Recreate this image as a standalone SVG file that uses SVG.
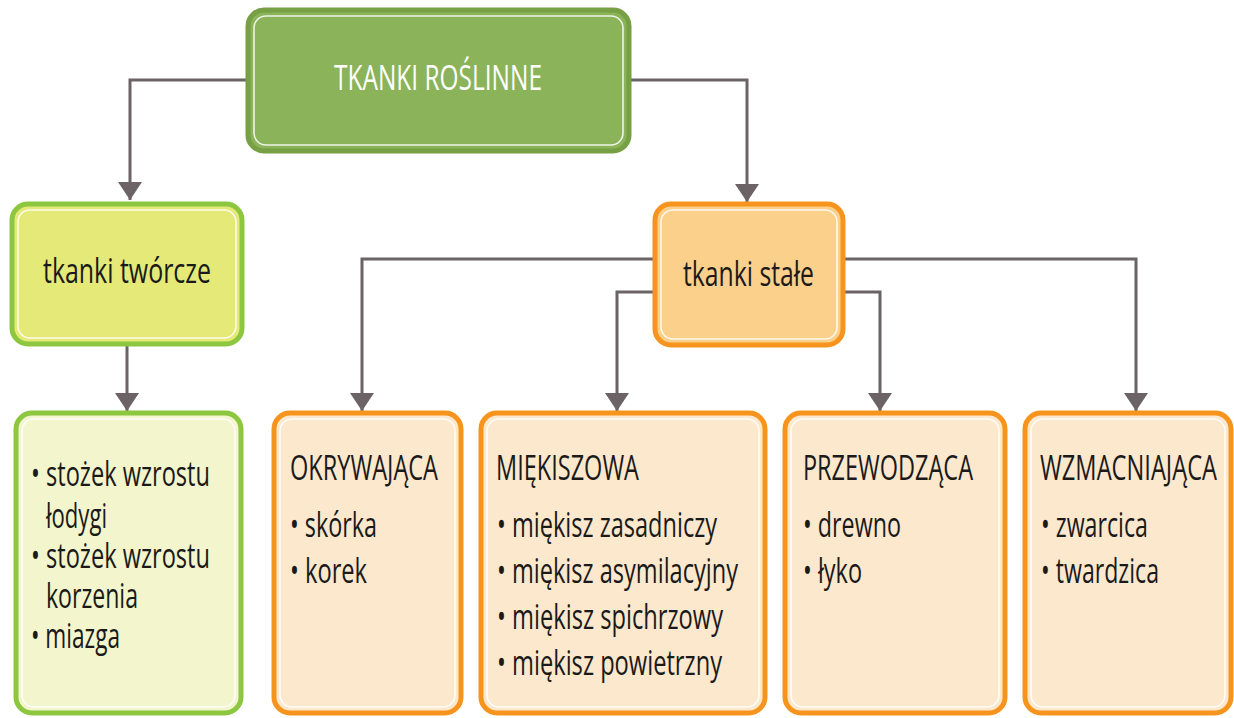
<svg xmlns="http://www.w3.org/2000/svg" width="1234" height="718" viewBox="0 0 1234 718">
<style>
.t{font-family:"Open Sans","DejaVu Sans",sans-serif;fill:#1a1a1a;font-size:34px}
.w{fill:#ffffff}
.c{fill:none;stroke:#6b6365;stroke-width:3}
.in{fill:none;stroke:#ffffff;stroke-width:1.6;opacity:0.85}
.og{stroke:#f7941d;stroke-width:5}
.gg{stroke:#8dc63f;stroke-width:5}
</style>
<defs>
<marker id="ah" markerUnits="userSpaceOnUse" markerWidth="18" markerHeight="24" refX="18" refY="12" orient="auto" viewBox="0 0 18 24">
<path d="M0,0 L18,12 L0,24 z" fill="#6b6365"/>
</marker>
</defs>
<g id="connectors">
<path class="c" d="M246,80 H130 V200" marker-end="url(#ah)"/>
<path class="c" d="M631,80 H747 V202" marker-end="url(#ah)"/>
<path class="c" d="M127,346 V411" marker-end="url(#ah)"/>
<path class="c" d="M653,259 H362 V411" marker-end="url(#ah)"/>
<path class="c" d="M653,292 H617 V411" marker-end="url(#ah)"/>
<path class="c" d="M845,292 H880 V411" marker-end="url(#ah)"/>
<path class="c" d="M845,259 H1136 V411" marker-end="url(#ah)"/>
</g>
<g id="root">
<rect x="248" y="10" width="381" height="141" rx="16" fill="#8bb35a" stroke="#76a043" stroke-width="5"/>
<rect x="254" y="16" width="369" height="129" rx="12" class="in"/>
<text class="t w" x="334" y="90" font-size="38" textLength="208" lengthAdjust="spacingAndGlyphs">TKANKI ROŚLINNE</text>
</g>
<g id="tworcze">
<rect x="12" y="204" width="230" height="140" rx="16" fill="#e5e978" class="gg"/>
<rect x="18" y="210" width="218" height="128" rx="12" class="in"/>
<text class="t" x="43" y="283" font-size="34" textLength="168" lengthAdjust="spacingAndGlyphs">tkanki twórcze</text>
</g>
<g id="stale">
<rect x="655" y="204" width="188" height="141" rx="16" fill="#fbd08b" class="og"/>
<rect x="661" y="210" width="176" height="129" rx="12" class="in"/>
<text class="t" x="683" y="286" font-size="34" textLength="131" lengthAdjust="spacingAndGlyphs">tkanki stałe</text>
</g>
<g id="tworcze-list">
<rect x="16" y="413" width="225" height="300" rx="16" fill="#f3f5cc" class="gg"/>
<rect x="22" y="419" width="213" height="288" rx="12" class="in"/>
<text class="t" x="31" y="486" textLength="179" lengthAdjust="spacingAndGlyphs">• stożek wzrostu</text>
<text class="t" x="46" y="528" textLength="61" lengthAdjust="spacingAndGlyphs">łodygi</text>
<text class="t" x="31" y="568" textLength="179" lengthAdjust="spacingAndGlyphs">• stożek wzrostu</text>
<text class="t" x="46" y="608" textLength="92" lengthAdjust="spacingAndGlyphs">korzenia</text>
<text class="t" x="31" y="648" textLength="89" lengthAdjust="spacingAndGlyphs">• miazga</text>
</g>
<g id="okrywajaca">
<rect x="274" y="413" width="187" height="300" rx="16" fill="#fce8cd" class="og"/>
<rect x="280" y="419" width="175" height="288" rx="12" class="in"/>
<text class="t" x="290" y="480" textLength="148" lengthAdjust="spacingAndGlyphs">OKRYWAJĄCA</text>
<text class="t" x="290" y="537" textLength="87" lengthAdjust="spacingAndGlyphs">• skórka</text>
<text class="t" x="290" y="583" textLength="77" lengthAdjust="spacingAndGlyphs">• korek</text>
</g>
<g id="miekiszowa">
<rect x="481" y="413" width="284" height="300" rx="16" fill="#fce8cd" class="og"/>
<rect x="487" y="419" width="272" height="288" rx="12" class="in"/>
<text class="t" x="496" y="480" textLength="143" lengthAdjust="spacingAndGlyphs">MIĘKISZOWA</text>
<text class="t" x="497" y="537" textLength="220" lengthAdjust="spacingAndGlyphs">• miękisz zasadniczy</text>
<text class="t" x="497" y="583" textLength="241" lengthAdjust="spacingAndGlyphs">• miękisz asymilacyjny</text>
<text class="t" x="497" y="629" textLength="226" lengthAdjust="spacingAndGlyphs">• miękisz spichrzowy</text>
<text class="t" x="497" y="675" textLength="225" lengthAdjust="spacingAndGlyphs">• miękisz powietrzny</text>
</g>
<g id="przewodzaca">
<rect x="785" y="413" width="220" height="300" rx="16" fill="#fce8cd" class="og"/>
<rect x="791" y="419" width="208" height="288" rx="12" class="in"/>
<text class="t" x="803" y="480" textLength="170" lengthAdjust="spacingAndGlyphs">PRZEWODZĄCA</text>
<text class="t" x="803" y="537" textLength="98" lengthAdjust="spacingAndGlyphs">• drewno</text>
<text class="t" x="803" y="583" textLength="59" lengthAdjust="spacingAndGlyphs">• łyko</text>
</g>
<g id="wzmacniajaca">
<rect x="1025" y="413" width="206" height="300" rx="16" fill="#fce8cd" class="og"/>
<rect x="1031" y="419" width="194" height="288" rx="12" class="in"/>
<text class="t" x="1040" y="480" textLength="177" lengthAdjust="spacingAndGlyphs">WZMACNIAJĄCA</text>
<text class="t" x="1041" y="537" textLength="107" lengthAdjust="spacingAndGlyphs">• zwarcica</text>
<text class="t" x="1041" y="583" textLength="118" lengthAdjust="spacingAndGlyphs">• twardzica</text>
</g>
</svg>
